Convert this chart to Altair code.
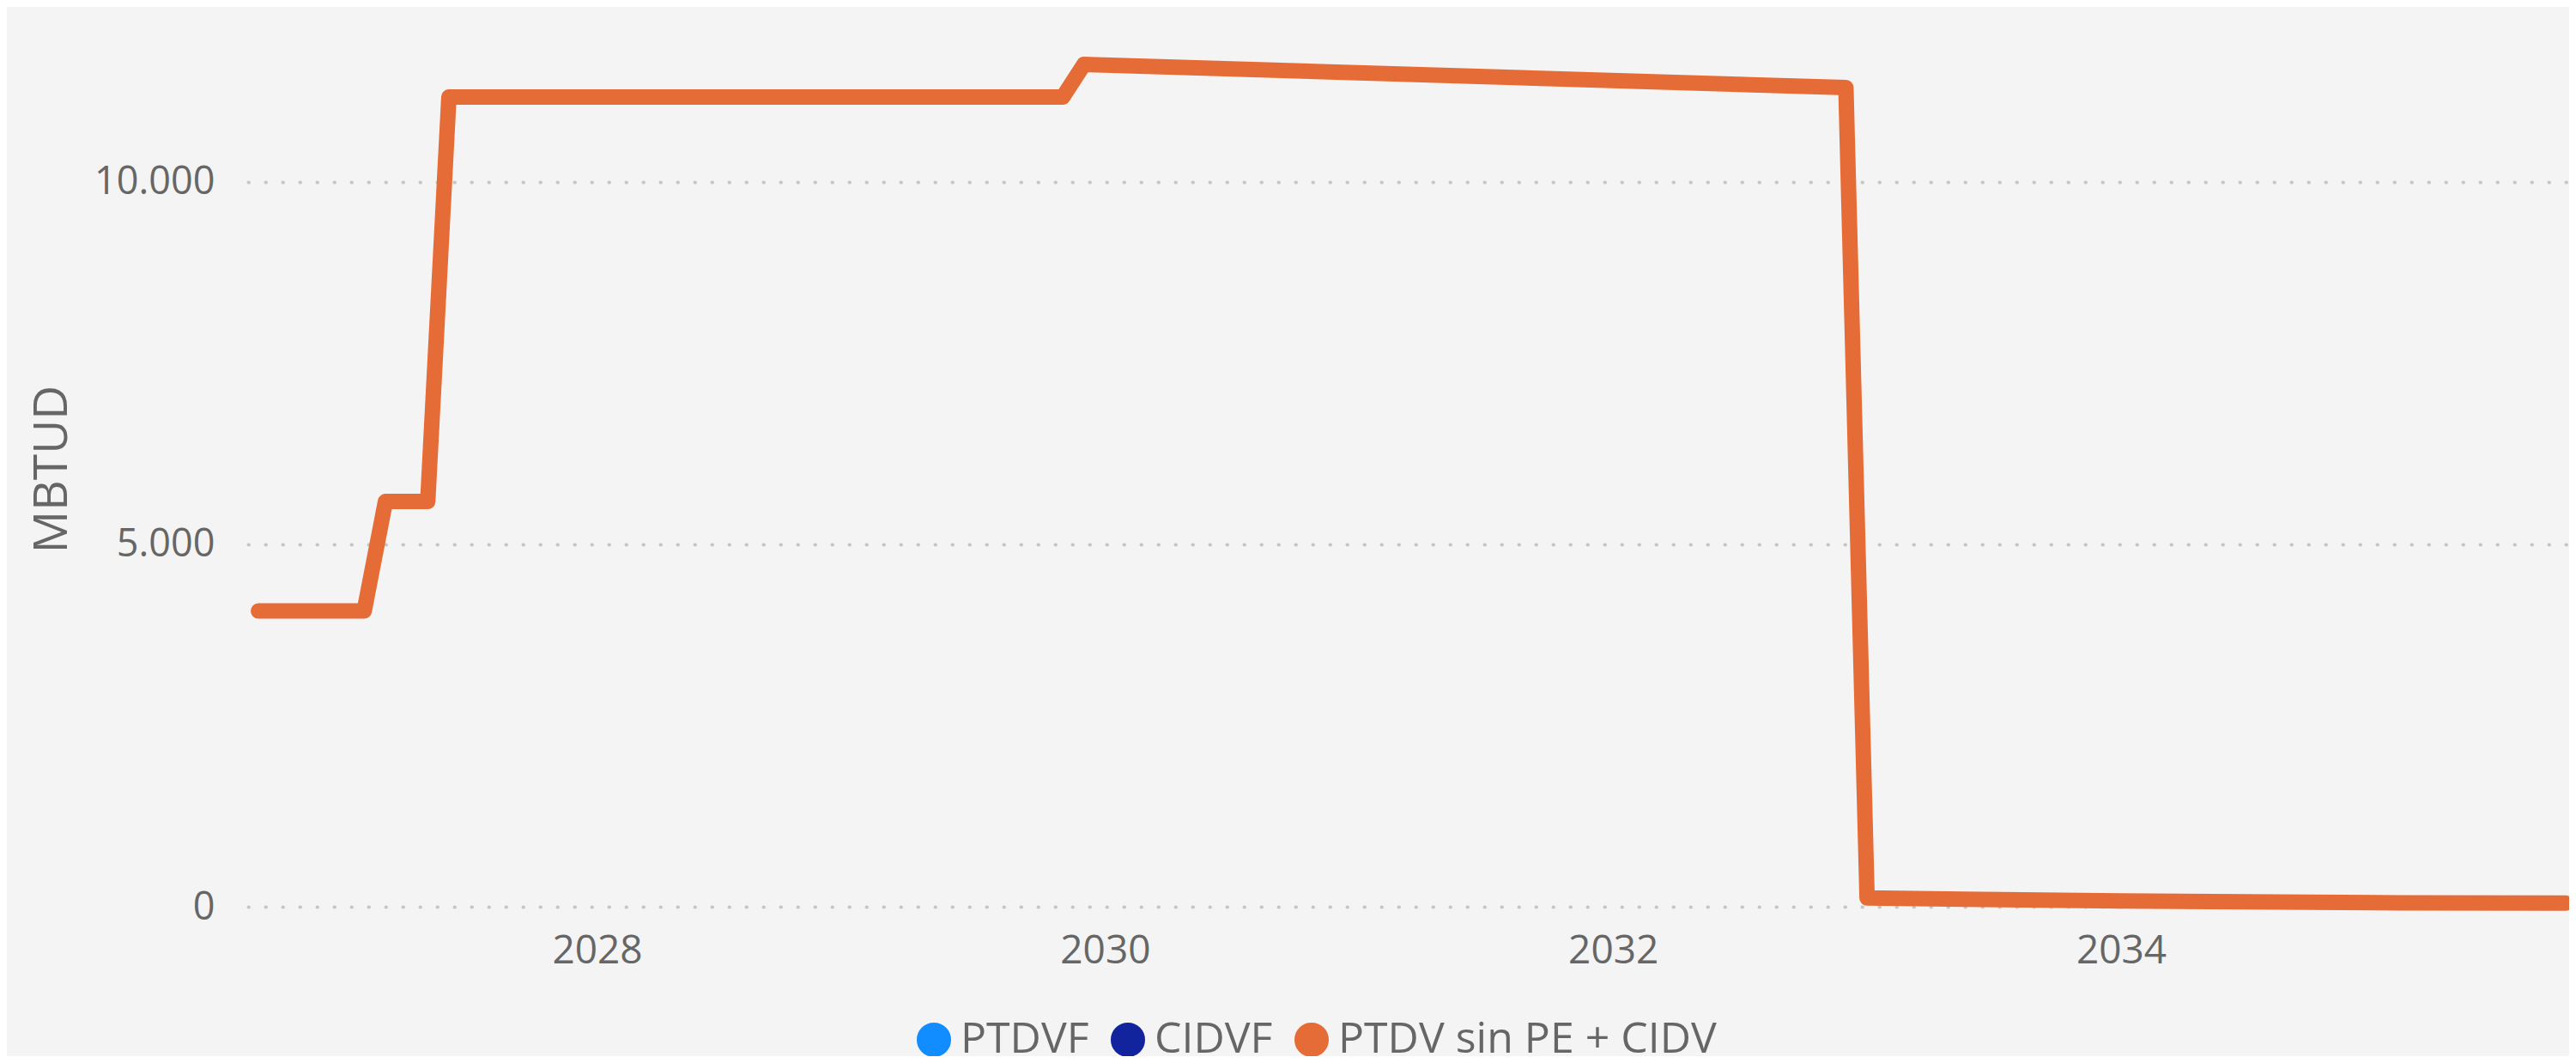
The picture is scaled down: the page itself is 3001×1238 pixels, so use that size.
import altair as alt
import pandas as pd

# Legend / series
series_names = ["PTDVF", "CIDVF", "PTDV sin PE + CIDV"]
series_colors = ["#118DFF", "#12239E", "#E66C37"]

# Visible series (PTDV sin PE + CIDV): month of each vertex and its value (MBTUD)
months = ["2026-09", "2027-02", "2027-03", "2027-05", "2027-06", "2029-11",
          "2029-12", "2032-12", "2033-01", "2034-01", "2035-01", "2035-10"]
values = [4080, 4080, 5590, 5590, 11170, 11170,
          11620, 11300, 120, 80, 55, 50]

# Axis ticks
y_ticks = [0, 5000, 10000]
x_ticks = [2028, 2030, 2032, 2034]


def to_year(m):
    y, mo = m.split("-")
    return int(y) + (int(mo) - 1) / 12.0


df = pd.DataFrame({
    "t": [to_year(m) for m in months],
    "MBTUD": values,
    "serie": [series_names[2]] * len(months),
})

TEXT = "#666666"
FONT = "Open Sans"

chart = alt.Chart(df).mark_line(
    strokeWidth=18, strokeCap="round", strokeJoin="round"
).encode(
    x=alt.X(
        "t:Q",
        scale=alt.Scale(domain=[2026.626, 2035.764], nice=False, zero=False),
        axis=alt.Axis(
            values=x_ticks, format="d", title=None, grid=False, domain=False,
            ticks=False, tickSize=0, labelPadding=65, labelBaseline="alphabetic",
            labelFontSize=46, labelColor=TEXT, labelFont=FONT, labelFlush=False,
        ),
    ),
    y=alt.Y(
        "MBTUD:Q",
        scale=alt.Scale(domain=[0, 12000], nice=False),
        axis=alt.Axis(
            values=y_ticks, labelExpr="replace(datum.label, ',', '.')",
            title="MBTUD", titleFontSize=55, titleColor=TEXT, titleFont=FONT,
            titleFontWeight="normal", titleX=-212, titleY=503, titleAngle=270,
            titleBaseline="alphabetic", titleAlign="center",
            domain=False, ticks=False, tickSize=0, labelPadding=39,
            labelFontSize=45, labelColor=TEXT, labelFont=FONT,
            grid=True, gridDash=[0.5, 19.5], gridWidth=4, gridCap="round",
            gridColor="#c8c6c4",
        ),
    ),
    color=alt.Color(
        "serie:N",
        scale=alt.Scale(domain=series_names, range=series_colors),
        legend=alt.Legend(
            orient="none", legendX=774, legendY=1143, direction="horizontal",
            title=None, symbolType="circle", symbolSize=400, symbolStrokeWidth=20,
            labelFontSize=50, labelColor=TEXT, labelFont=FONT, labelOffset=6,
            labelLimit=0, columnPadding=-5, padding=0, symbolOpacity=1,
        ),
    ),
).properties(
    width=2704,
    height=1013,
    padding={"left": 281, "top": 35, "right": 0, "bottom": 174},
    autosize=alt.AutoSizeParams(type="none"),
    background="#f4f4f4",
).configure_view(stroke=None)

chart.save("out.html", embed_options={"renderer": "svg", "actions": False})
